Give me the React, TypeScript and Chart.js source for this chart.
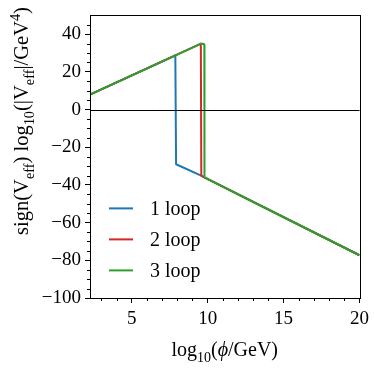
import React, { useEffect, useRef } from 'react';
import { Chart, registerables } from 'chart.js';
Chart.register(...registerables);

// log10(phi/GeV) and sign(V) log10|V| values
const phiBlue = [2.25, 7.87, 7.92, 9.57, 9.78, 20];
const vBlue = [8.0, 28.8, -29.0, -35.0, -36.0, -77.3];
const phiRed = [2.25, 9.45, 9.55, 9.58, 9.78, 20];
const vRed = [8.0, 34.6, 35.0, -35.0, -36.0, -77.3];
const phiGreen = [2.25, 9.5, 9.68, 9.78, 9.79, 20];
const vGreen = [8.0, 34.8, 35.0, 34.5, -36.0, -77.3];

const seriesLabels = ['1 loop', '2 loop', '3 loop'];
const seriesColors = ['#1f77b4', '#d62728', '#2ca02c'];
const xTicks = [5, 10, 15, 20];
const yTicks = [-100, -80, -60, -40, -20, 0, 20, 40];

const FAMILY = '"Liberation Serif", "DejaVu Serif", serif';

type Part = { t: string; k?: 'n' | 'sub' | 'sup' | 'it' };

function richWidth(ctx: CanvasRenderingContext2D, parts: Part[], size: number) {
  let w = 0;
  for (const p of parts) {
    const s = p.k === 'sub' || p.k === 'sup' ? size * 0.7 : size;
    ctx.font = `${p.k === 'it' ? 'italic ' : ''}${s}px ${FAMILY}`;
    w += ctx.measureText(p.t).width;
  }
  return w;
}

function drawRich(ctx: CanvasRenderingContext2D, parts: Part[], x: number, y: number, size: number) {
  const w = richWidth(ctx, parts, size);
  let cx = x - w / 2;
  ctx.textBaseline = 'alphabetic';
  ctx.textAlign = 'left';
  for (const p of parts) {
    const s = p.k === 'sub' || p.k === 'sup' ? size * 0.7 : size;
    ctx.font = `${p.k === 'it' ? 'italic ' : ''}${s}px ${FAMILY}`;
    let dy = 0;
    if (p.k === 'sub') dy = size * 0.28;
    if (p.k === 'sup') dy = -size * 0.4;
    ctx.fillText(p.t, cx, y + dy);
    cx += ctx.measureText(p.t).width;
  }
}

const xTitle: Part[] = [
  { t: 'log' }, { t: '10', k: 'sub' }, { t: '(' }, { t: 'ϕ', k: 'it' }, { t: '/GeV)' },
];
const yTitle: Part[] = [
  { t: 'sign(V' }, { t: 'eff', k: 'sub' }, { t: ') log' }, { t: '10', k: 'sub' },
  { t: '(|V' }, { t: 'eff', k: 'sub' }, { t: '|/GeV' }, { t: '4', k: 'sup' }, { t: ')' },
];

const decorPlugin = {
  id: 'decor',
  afterDatasetsDraw(chart: any) {
    const { ctx, chartArea: a, scales } = chart;
    const ys = scales.y;
    ctx.save();
    ctx.strokeStyle = '#000';
    ctx.lineWidth = 1;
    const y0 = Math.round(ys.getPixelForValue(0)) + 0.5;
    ctx.beginPath();
    ctx.moveTo(a.left, y0);
    ctx.lineTo(a.right, y0);
    ctx.stroke();
    ctx.restore();
  },
  afterDraw(chart: any) {
    const { ctx, chartArea: a, scales } = chart;
    const xs = scales.x, ys = scales.y;
    ctx.save();
    ctx.strokeStyle = '#000';
    ctx.lineWidth = 1;
    ctx.strokeRect(Math.round(a.left) + 0.5, Math.round(a.top) + 0.5,
      Math.round(a.right - a.left), Math.round(a.bottom - a.top));
    ctx.beginPath();
    for (let v = -95; v < 50; v += 5) {
      if (v % 20 === 0) continue;
      const py = Math.round(ys.getPixelForValue(v)) + 0.5;
      ctx.moveTo(a.left, py);
      ctx.lineTo(a.left - 3, py);
    }
    for (let v = 3; v < 20; v += 1) {
      if (v % 5 === 0) continue;
      const px = Math.round(xs.getPixelForValue(v)) + 0.5;
      ctx.moveTo(px, a.bottom);
      ctx.lineTo(px, a.bottom + 3);
    }
    ctx.stroke();

    ctx.fillStyle = '#000';
    for (let i = 0; i < seriesLabels.length; i++) {
      const ly = a.top + 193 + 31 * i;
      ctx.strokeStyle = seriesColors[i];
      ctx.lineWidth = 2;
      ctx.beginPath();
      ctx.moveTo(a.left + 19, ly);
      ctx.lineTo(a.left + 43, ly);
      ctx.stroke();
      ctx.font = `20px ${FAMILY}`;
      ctx.textAlign = 'left';
      ctx.textBaseline = 'middle';
      ctx.fillText(seriesLabels[i], a.left + 60, ly + 1);
    }

    ctx.fillStyle = '#000';
    drawRich(ctx, xTitle, (a.left + a.right) / 2, 356, 20);
    ctx.translate(28, 121);
    ctx.rotate(-Math.PI / 2);
    drawRich(ctx, yTitle, 0, 0, 20.5);
    ctx.restore();
  },
};

function toPts(xs: number[], ys: number[]) {
  return xs.map((x, i) => ({ x, y: ys[i] }));
}

export default function App() {
  const ref = useRef<HTMLCanvasElement | null>(null);
  useEffect(() => {
    if (!ref.current) return;
    const tickFont = { family: FAMILY, size: 19 };
    const fmt = (v: any) => (v < 0 ? '\u2212' + Math.abs(v) : String(v));
    const chart = new Chart(ref.current, {
      type: 'line',
      data: {
        datasets: [
          { label: seriesLabels[0], data: toPts(phiBlue, vBlue), borderColor: seriesColors[0], order: 3 },
          { label: seriesLabels[1], data: toPts(phiRed, vRed), borderColor: seriesColors[1], order: 2 },
          { label: seriesLabels[2], data: toPts(phiGreen, vGreen), borderColor: seriesColors[2], order: 1 },
        ].map((d) => ({ ...d, borderWidth: 2, pointRadius: 0, fill: false, tension: 0, borderJoinStyle: 'round' as const })),
      },
      options: {
        responsive: false,
        animation: false,
        devicePixelRatio: 1,
        layout: { padding: { left: 0, top: 11, right: 11, bottom: 0 } },
        plugins: { legend: { display: false }, tooltip: { enabled: false }, title: { display: false } },
        scales: {
          x: {
            type: 'linear',
            min: 2.25,
            max: 20,
            afterBuildTicks: (s: any) => { s.ticks = xTicks.map((v) => ({ value: v })); },
            afterFit: (s: any) => { s.height = 76; },
            grid: { color: 'rgba(0,0,0,0)', drawTicks: true, tickLength: 5, tickColor: '#000', tickWidth: 1 },
            border: { display: true, color: '#000', width: 1 },
            ticks: { font: tickFont, color: '#000', padding: 5, maxRotation: 0, autoSkip: false, callback: fmt },
          },
          y: {
            type: 'linear',
            min: -100,
            max: 50,
            afterBuildTicks: (s: any) => { s.ticks = yTicks.map((v) => ({ value: v })); },
            afterFit: (s: any) => { s.width = 90; },
            grid: { color: 'rgba(0,0,0,0)', drawTicks: true, tickLength: 5, tickColor: '#000', tickWidth: 1 },
            border: { display: true, color: '#000', width: 1 },
            ticks: { font: tickFont, color: '#000', padding: 4, autoSkip: false, callback: fmt },
          },
        },
      },
      plugins: [decorPlugin],
    } as any);
    return () => chart.destroy();
  }, []);
  return (
    <div style={{ position: 'fixed', left: 0, top: 0, width: 374, height: 374, background: '#fff' }}>
      <canvas ref={ref} width={374} height={374} style={{ display: 'block' }} />
    </div>
  );
}
